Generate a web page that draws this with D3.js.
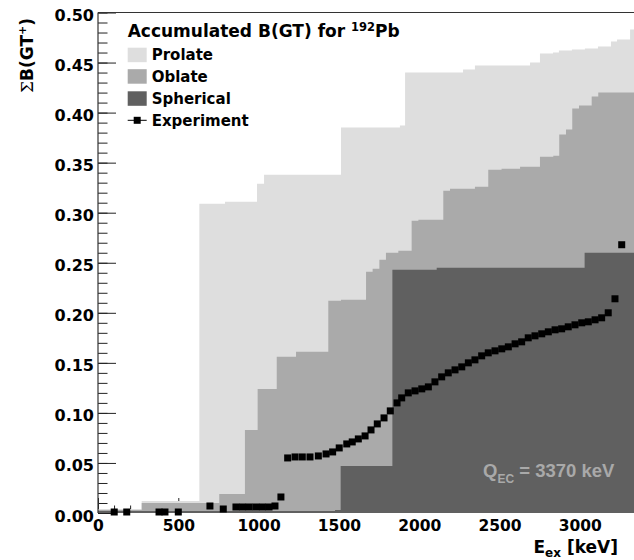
<!DOCTYPE html>
<html>
<head>
<meta charset="utf-8">
<script src="https://cdn.jsdelivr.net/npm/d3@7/dist/d3.min.js"></script>
<style>
    body { margin: 0; background: #fff; }
</style>
</head>
<body>
<div id="chart"></div>
<script>
// cumulative B(GT) step curves, breakpoints in keV
var prolateE = [0, 272, 631, 791, 990, 1034, 1513, 1880, 1912, 2273, 2347, 2690, 2752, 2833, 2870, 2951, 3032, 3113, 3194, 3232, 3313];
var prolateB = [0.004, 0.012, 0.309, 0.311, 0.329, 0.338, 0.385, 0.387, 0.440, 0.443, 0.447, 0.450, 0.459, 0.460, 0.462, 0.463, 0.464, 0.466, 0.471, 0.473, 0.483];

var oblateE = [0, 272, 755, 915, 994, 1113, 1233, 1434, 1513, 1669, 1710, 1752, 1793, 1870, 1953, 1995, 2150, 2192, 2347, 2430, 2513, 2628, 2752, 2835, 2872, 2914, 2953, 2995, 3074, 3115];
var oblateB = [0.003, 0.010, 0.019, 0.083, 0.124, 0.156, 0.161, 0.212, 0.213, 0.241, 0.244, 0.253, 0.260, 0.262, 0.292, 0.293, 0.322, 0.324, 0.326, 0.343, 0.344, 0.346, 0.356, 0.357, 0.378, 0.383, 0.404, 0.407, 0.416, 0.420];

var sphericalE = [0, 1476, 1511, 1833, 2109, 3030];
var sphericalB = [0.002, 0.003, 0.047, 0.243, 0.245, 0.260];

var expE = [101, 179, 380, 417, 500, 697, 780, 859, 900, 941, 983, 1024, 1065, 1102, 1139,
    1181, 1227, 1272, 1320, 1372, 1420, 1461, 1502, 1549, 1583, 1621, 1663, 1700, 1739, 1781, 1820, 1862,
    1891, 1932, 1974, 2016, 2057, 2098, 2140, 2181, 2223, 2265, 2306, 2347, 2389, 2430, 2472, 2514, 2555,
    2597, 2638, 2679, 2721, 2763, 2804, 2846, 2887, 2928, 2970, 3012, 3053, 3095, 3136, 3177, 3219, 3261];
var expB = [0.001, 0.001, 0.001, 0.001, 0.001, 0.007, 0.004, 0.006, 0.006, 0.006, 0.006, 0.006, 0.006, 0.007, 0.016,
    0.055, 0.056, 0.056, 0.056, 0.057, 0.059, 0.061, 0.065, 0.069, 0.071, 0.074, 0.077, 0.083, 0.089, 0.095, 0.102, 0.110,
    0.115, 0.120, 0.122, 0.124, 0.126, 0.131, 0.136, 0.140, 0.143, 0.146, 0.150, 0.153, 0.157, 0.160, 0.162, 0.164, 0.166,
    0.169, 0.171, 0.175, 0.177, 0.179, 0.181, 0.183, 0.184, 0.186, 0.188, 0.190, 0.191, 0.193, 0.195, 0.200, 0.214, 0.268];

var yTicks = [0, 0.05, 0.10, 0.15, 0.20, 0.25, 0.30, 0.35, 0.40, 0.45, 0.50];
var xTicks = [0, 500, 1000, 1500, 2000, 2500, 3000];
var eMax = 3370;

var width = 634, height = 560;
var sans = "'DejaVu Sans', sans-serif";

var x = d3.scaleLinear().domain([0, eMax]).range([98, 98 + eMax * 0.1606]);
var y = d3.scaleLinear().domain([0, 0.5]).range([513, 12.5]);

var svg = d3.select("#chart").append("svg")
    .attr("width", width)
    .attr("height", height)
    .style("font-family", sans)
    .style("font-weight", "bold");

// axes first, the fills cover part of the ticks as in the original
var yMinor = d3.range(0, 0.501, 0.01);
svg.append("g")
    .attr("transform", "translate(98,0)")
    .call(d3.axisLeft(y).tickValues(yMinor).tickSizeInner(-9.5).tickSizeOuter(0).tickFormat(""));
var yAxis = svg.append("g")
    .attr("transform", "translate(98,0)")
    .call(d3.axisLeft(y).tickValues(yTicks).tickSizeInner(-18).tickSizeOuter(0).tickPadding(4)
        .tickFormat(d3.format(".2f")));

svg.append("g")
    .attr("transform", "translate(0,513)")
    .call(d3.axisBottom(x).tickValues(d3.range(0, 3400, 100)).tickSizeInner(-7.5).tickSizeOuter(0).tickFormat(""));
var xAxis = svg.append("g")
    .attr("transform", "translate(0,513)")
    .call(d3.axisBottom(x).tickValues(xTicks).tickSizeInner(-15).tickSizeOuter(0).tickPadding(7)
        .tickFormat(d3.format("d")));

svg.selectAll(".tick text").attr("font-family", null).attr("fill", "#000");
yAxis.selectAll("text").attr("font-size", 16).attr("dy", "0.5em");
xAxis.selectAll("text").attr("font-size", 15.5);
svg.selectAll(".tick line").attr("stroke", "#222");
svg.selectAll("g").attr("font-family", null);
svg.selectAll(".domain").remove();

function steps(es, bs) {
    var pts = es.map(function (e, i) { return [e, bs[i]]; });
    pts.push([eMax, bs[bs.length - 1]]);
    return pts;
}

var area = d3.area()
    .curve(d3.curveStepAfter)
    .x(function (d) { return x(d[0]); })
    .y0(y(0))
    .y1(function (d) { return y(d[1]); });

var fills = [
    {name: "Prolate", e: prolateE, b: prolateB, color: "#dedede"},
    {name: "Oblate", e: oblateE, b: oblateB, color: "#aaaaaa"},
    {name: "Spherical", e: sphericalE, b: sphericalB, color: "#606060"}
];

fills.forEach(function (f) {
    svg.append("path")
        .datum(steps(f.e, f.b))
        .attr("d", area)
        .attr("fill", f.color);
});

var size = 7;
svg.append("g")
    .selectAll("rect")
    .data(expE)
    .enter()
    .append("rect")
    .attr("x", function (d) { return x(d) - size / 2; })
    .attr("y", function (d, i) { return y(expB[i]) - size / 2; })
    .attr("width", size)
    .attr("height", size)
    .attr("fill", "#000");

// frame lines
svg.append("line").attr("x1", 98).attr("x2", width).attr("y1", 12.5).attr("y2", 12.5)
    .attr("stroke", "#333").attr("stroke-width", 1.2);
svg.append("line").attr("x1", 98).attr("x2", 98).attr("y1", 12.5).attr("y2", 513)
    .attr("stroke", "#333").attr("stroke-width", 1.2);

// legend
var legend = svg.append("g");
var title = legend.append("text").attr("x", 127.7).attr("y", 37.3).attr("font-size", 17);
title.append("tspan").text("Accumulated B(GT) for ");
title.append("tspan").attr("font-size", 11.5).attr("dy", -6).text("192");
title.append("tspan").attr("dy", 6).text("Pb");

var rowY = [54.7, 76.2, 98.3];
fills.forEach(function (f, i) {
    legend.append("rect")
        .attr("x", 127.7).attr("y", rowY[i] - 7)
        .attr("width", 19).attr("height", 14.5)
        .attr("fill", f.color);
    legend.append("text")
        .attr("x", 151.7).attr("y", rowY[i] + 5.6)
        .attr("font-size", 15)
        .text(f.name);
});
var expRow = 120.3;
legend.append("line").attr("x1", 127.7).attr("x2", 146.7).attr("y1", expRow).attr("y2", expRow)
    .attr("stroke", "#000").attr("stroke-width", 1);
legend.append("rect").attr("x", 137.2 - 3.5).attr("y", expRow - 3.5).attr("width", 7).attr("height", 7).attr("fill", "#000");
legend.append("text").attr("x", 151.7).attr("y", expRow + 5.6).attr("font-size", 15).text("Experiment");

// Q value
var q = svg.append("text")
    .attr("x", 483).attr("y", 477)
    .style("font-family", "'Liberation Sans', Arial, sans-serif")
    .attr("font-size", 18.5)
    .attr("fill", "#a9a9a9");
q.append("tspan").text("Q");
q.append("tspan").attr("font-size", 12).attr("dy", 6).text("EC");
q.append("tspan").attr("dy", -6).text(" = 3370 keV");

// axis titles
var xt = svg.append("text")
    .attr("x", 618).attr("y", 553)
    .attr("text-anchor", "end")
    .attr("font-size", 17);
xt.append("tspan").text("E");
xt.append("tspan").attr("font-size", 12).attr("dy", 4).text("ex");
xt.append("tspan").attr("dy", -4).text(" [keV]");

var yt = svg.append("text")
    .attr("transform", "translate(33,18) rotate(-90)")
    .attr("text-anchor", "end")
    .attr("font-size", 17);
yt.append("tspan").style("font-family", "'DejaVu Serif', serif").style("font-weight", "normal").text("\u03A3");
yt.append("tspan").text("B(GT");
yt.append("tspan").attr("font-size", 11).attr("dy", -7).text("+");
yt.append("tspan").attr("dy", 7).text(")");
</script>
</body>
</html>
